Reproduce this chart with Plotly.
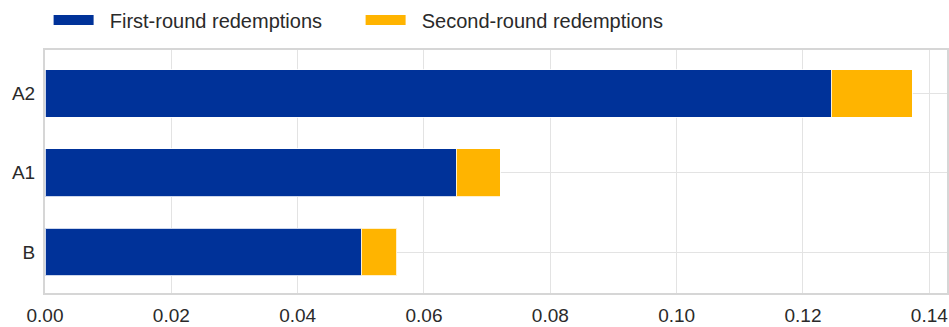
import plotly.graph_objects as go

categories = ["B", "A1", "A2"]
first_round = [0.0501, 0.0651, 0.1245]
second_round = [0.0056, 0.0070, 0.0128]
series_names = ["First-round redemptions", "Second-round redemptions"]
x_tick_values = [0.00, 0.02, 0.04, 0.06, 0.08, 0.10, 0.12, 0.14]
x_tick_labels = ["0.00", "0.02", "0.04", "0.06", "0.08", "0.10", "0.12", "0.14"]

BLUE = "#003299"
ORANGE = "#FFB400"

fig = go.Figure()
for name, vals, col in [(series_names[0], first_round, BLUE), (series_names[1], second_round, ORANGE)]:
    fig.add_trace(go.Bar(
        y=categories, x=vals, orientation="h", name=name,
        marker=dict(color=col, line=dict(color="rgba(255,255,255,0.8)", width=1)),
        showlegend=False,
    ))
# legend swatches
for name, col in [(series_names[0], BLUE), (series_names[1], ORANGE)]:
    fig.add_trace(go.Scatter(
        x=[None], y=[None], mode="lines", name="\u00a0\u00a0" + name,
        line=dict(color=col, width=13),
        showlegend=True,
    ))

fig.update_layout(
    barmode="stack",
    bargap=0.4,
    width=949, height=327,
    margin=dict(l=45, r=2, t=50, b=34, autoexpand=False),
    paper_bgcolor="white", plot_bgcolor="white",
    font=dict(family="Liberation Sans, Arial, sans-serif", size=19, color="#2a2a2a"),
    legend=dict(
        orientation="h", x=0.004, xanchor="left", y=1.1235, yanchor="middle",
        entrywidth=257, entrywidthmode="pixels",
        font=dict(size=20, color="#2a2a2a"),
        itemwidth=40, traceorder="normal", bgcolor="rgba(0,0,0,0)",
    ),
    xaxis=dict(
        range=[0, 0.1428], tickvals=x_tick_values, ticktext=x_tick_labels,
        showgrid=True, gridcolor="#e3e3e3", gridwidth=1,
        showline=True, linecolor="#d6d6d6", linewidth=2, mirror=True,
        zeroline=False, ticks="", ticklabelstandoff=4, automargin=False,
    ),
    yaxis=dict(
        categoryorder="array", categoryarray=categories,
        range=[-0.517, 2.549],
        showgrid=True, gridcolor="#e3e3e3", gridwidth=1,
        showline=True, linecolor="#d6d6d6", linewidth=2, mirror=True,
        zeroline=False, ticks="", ticklabelstandoff=4, automargin=False,
    ),
)

fig.write_html("out.html", config={"displayModeBar": False},
               post_script="document.body.style.margin='0';")
